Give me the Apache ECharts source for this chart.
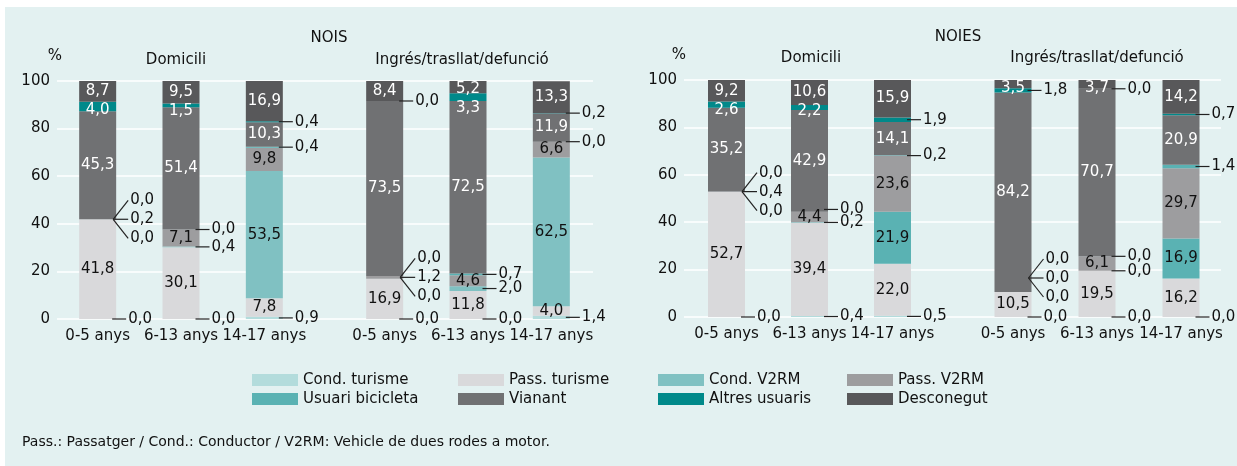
<!DOCTYPE html>
<html>
<head>
<meta charset="utf-8">
<title>NOIS / NOIES</title>
<script src="https://cdn.jsdelivr.net/npm/echarts@6/dist/echarts.min.js"></script>
<style>
  html, body { margin: 0; padding: 0; background: #fff; }
  #chart { width: 1237px; height: 466px; }
</style>
</head>
<body>
<div id="chart"></div>
<script>
// --- data ---
const categories = ['0-5 anys', '6-13 anys', '14-17 anys'];
const seriesNames = ['Cond. turisme', 'Pass. turisme', 'Cond. V2RM', 'Pass. V2RM',
  'Usuari bicicleta', 'Vianant', 'Altres usuaris', 'Desconegut'];
const yTicks = [0, 20, 40, 60, 80, 100];

// one row per age group, values in seriesNames order (bottom to top)
const noisDomicili = [
  [0.0, 41.8, 0.0, 0.2, 0.0, 45.3, 4.0, 8.7],
  [0.0, 30.1, 0.4, 7.1, 0.0, 51.4, 1.5, 9.5],
  [0.9, 7.8, 53.5, 9.8, 0.4, 10.3, 0.4, 16.9]
];
const noisIngres = [
  [0.0, 16.9, 0.0, 1.2, 0.0, 73.5, 0.0, 8.4],
  [0.0, 11.8, 2.0, 4.6, 0.7, 72.5, 3.3, 5.2],
  [1.4, 4.0, 62.5, 6.6, 0.0, 11.9, 0.2, 13.3]
];
const noiesDomicili = [
  [0.0, 52.7, 0.0, 0.4, 0.0, 35.2, 2.6, 9.2],
  [0.4, 39.4, 0.2, 4.4, 0.0, 42.9, 2.2, 10.6],
  [0.5, 22.0, 21.9, 23.6, 0.2, 14.1, 1.9, 15.9]
];
const noiesIngres = [
  [0.0, 10.5, 0.0, 0.0, 0.0, 84.2, 1.8, 3.5],
  [0.0, 19.5, 0.0, 6.1, 0.0, 70.7, 0.0, 3.7],
  [0.0, 16.2, 16.9, 29.7, 1.4, 20.9, 0.7, 14.2]
];

// --- style ---
const FONT = '"DejaVu Sans", sans-serif';
const TXT = '#111';
const colors = ['#b3dcdc', '#d9d9db', '#80c1c2', '#9d9d9f', '#5ab2b3', '#707173', '#00898a', '#58585a'];
const BAR_W = 37;
const FAN_STEP = 19;
const GAP = 13;
const FAN_GAP = 20;
const lightText = [5, 6, 7];
const forceInside = ['NOIS-Domicili-1-6'];

const panels = [
  { key: 'NOIS-Domicili', rows: noisDomicili, left: 56, top: 81, width: 250, height: 238 },
  { key: 'NOIS-Ingres', rows: noisIngres, left: 343, top: 81, width: 250, height: 238 },
  { key: 'NOIES-Domicili', rows: noiesDomicili, left: 685, top: 80, width: 249, height: 237 },
  { key: 'NOIES-Ingres', rows: noiesIngres, left: 971, top: 80, width: 252, height: 237 }
];
const backs = [
  { left: 57, top: 81, width: 536, height: 238 },
  { left: 684, top: 80, width: 537, height: 237 }
];

const fmt = v => v.toFixed(1).replace('.', ',');

function txt(x, y, s, align, fill) {
  return {
    type: 'text',
    style: { x, y, text: s, fill, fontSize: 15, fontFamily: FONT, align, verticalAlign: 'middle' }
  };
}
function seg(x1, y1, x2, y2) {
  return { type: 'line', shape: { x1, y1, x2, y2 }, style: { stroke: '#222', lineWidth: 1.2 } };
}

function makeLabels(key) {
  return function (params, api) {
    const i = api.value(0);
    const vals = seriesNames.map((_, k) => api.value(k + 1));
    const base = api.coord([i, 0]);
    const x = base[0];
    const right = x + BAR_W / 2;
    let cum = 0;
    const segs = vals.map((v, k) => {
      const y0 = api.coord([i, cum])[1];
      cum += v;
      const y1 = api.coord([i, cum])[1];
      return { k, v, yc: (y0 + y1) / 2 };
    });
    const topY = api.coord([i, cum])[1];
    const isOut = s => s.v < 2.05 && !forceInside.includes(key + '-' + i + '-' + s.k);
    const children = [];

    // labels inside the bar, top to bottom
    let prev = null;
    for (let k = segs.length - 1; k >= 0; k--) {
      const s = segs[k];
      if (isOut(s)) continue;
      let y = Math.max(s.yc, topY + 8);
      if (prev !== null && y < prev + 19) y = prev + 19;
      y = Math.min(y, base[1] - 8);
      prev = y;
      children.push(txt(x, y, fmt(s.v), 'center', lightText.includes(s.k) ? '#fff' : TXT));
    }

    // small values: labels on the right with leader lines
    const blocks = [];
    segs.filter(isOut).forEach(s => {
      const last = blocks[blocks.length - 1];
      if (last && Math.abs(last.items[last.items.length - 1].yc - s.yc) < 4) last.items.push(s);
      else blocks.push({ items: [s] });
    });
    let prevTop = null;
    let prevFan = false;
    blocks.forEach(b => {
      const n = b.items.length;
      let anchor = b.items.reduce((a, s) => a + s.yc, 0) / n;
      const offs = b.items.map((s, j) => ((n - 1) / 2 - j) * FAN_STEP);
      const gap = (n > 1 || prevFan) ? FAN_GAP : GAP;
      const lo = anchor + Math.max(...offs);
      if (prevTop !== null && lo > prevTop - gap) anchor -= lo - (prevTop - gap);
      prevTop = anchor + Math.min(...offs);
      prevFan = n > 1;
      if (n === 1) {
        children.push(seg(right - 4, anchor, right + 10, anchor));
        children.push(txt(right + 12, anchor, fmt(b.items[0].v), 'left', TXT));
      } else {
        b.items.forEach((s, j) => {
          children.push(seg(right - 3, anchor, right + 12, anchor + offs[j]));
          children.push(txt(right + 14, anchor + offs[j], fmt(s.v), 'left', TXT));
        });
      }
    });
    return { type: 'group', children };
  };
}

const grid = backs.concat(panels).map(g => ({ left: g.left, top: g.top, width: g.width, height: g.height }));

const xAxis = backs.map((b, i) => ({ type: 'value', gridIndex: i, show: false }))
  .concat(panels.map((p, i) => ({
    type: 'category', gridIndex: 2 + i, data: categories,
    axisLine: { show: false }, axisTick: { show: false },
    axisLabel: { interval: 0, margin: 10, fontSize: 15, fontFamily: FONT, color: TXT, hideOverlap: false }
  })));

const yAxis = backs.map((b, i) => ({
  type: 'value', gridIndex: i, min: yTicks[0], max: yTicks[yTicks.length - 1], interval: 20,
  axisLine: { show: false }, axisTick: { show: false },
  axisLabel: { margin: 7, fontSize: 15, fontFamily: FONT, color: TXT },
  splitLine: { lineStyle: { color: '#ffffff', width: 1.5 } }
})).concat(panels.map((p, i) => ({
  type: 'value', gridIndex: 2 + i, min: 0, max: 100, show: false, splitLine: { show: false }
})));

const series = [];
panels.forEach((p, pi) => {
  const noies = p.key.startsWith('NOIES');
  seriesNames.forEach((name, k) => {
    series.push({
      name, type: 'bar', stack: 'p' + pi, barWidth: BAR_W,
      xAxisIndex: 2 + pi, yAxisIndex: 2 + pi,
      data: p.rows.map(r => r[k]),
      // NOIES draws the V2RM drivers in the bicycle teal
      itemStyle: { color: noies && k === 2 ? colors[4] : colors[k] },
      emphasis: { disabled: true }, silent: true
    });
  });
  series.push({
    type: 'custom', xAxisIndex: 2 + pi, yAxisIndex: 2 + pi, z: 10, silent: true,
    data: p.rows.map((r, i) => [i].concat(r)),
    encode: { x: 0, y: 1 },
    renderItem: makeLabels(p.key)
  });
});

const legendCols = [[0, 4], [1, 5], [2, 6], [3, 7]];
const legendX = [252, 458, 658, 847];
const legend = legendCols.map((col, c) => ({
  data: col.map(k => seriesNames[k]),
  orient: 'vertical', left: legendX[c], top: 372, padding: 0,
  icon: 'rect', itemWidth: 46, itemHeight: 12, itemGap: 3, selectedMode: false,
  textStyle: { fontSize: 15, fontFamily: FONT, color: TXT, lineHeight: 16 }
}));

function label(x, y, s, size, align) {
  return {
    type: 'text', x, y,
    style: { text: s, fill: TXT, font: size + 'px ' + FONT, align: align, textAlign: align,
      verticalAlign: 'middle', textVerticalAlign: 'middle' }
  };
}

const graphic = [
  { type: 'rect', z: -10, shape: { x: 5, y: 7, width: 1232, height: 459 }, style: { fill: '#e3f1f1' } },
  label(329, 38, 'NOIS', 15, 'center'),
  label(958, 37, 'NOIES', 15, 'center'),
  label(55, 56, '%', 15, 'center'),
  label(679, 55, '%', 15, 'center'),
  label(176, 60, 'Domicili', 15, 'center'),
  label(462, 60, 'Ingrés/trasllat/defunció', 15, 'center'),
  label(811, 58, 'Domicili', 15, 'center'),
  label(1097, 58, 'Ingrés/trasllat/defunció', 15, 'center'),
  label(22, 442, 'Pass.: Passatger / Cond.: Conductor / V2RM: Vehicle de dues rodes a motor.', 14, 'left')
];

const chart = echarts.init(document.getElementById('chart'));
chart.setOption({
  backgroundColor: '#ffffff',
  animation: false,
  grid, xAxis, yAxis, series, legend, graphic
});
</script>
</body>
</html>
